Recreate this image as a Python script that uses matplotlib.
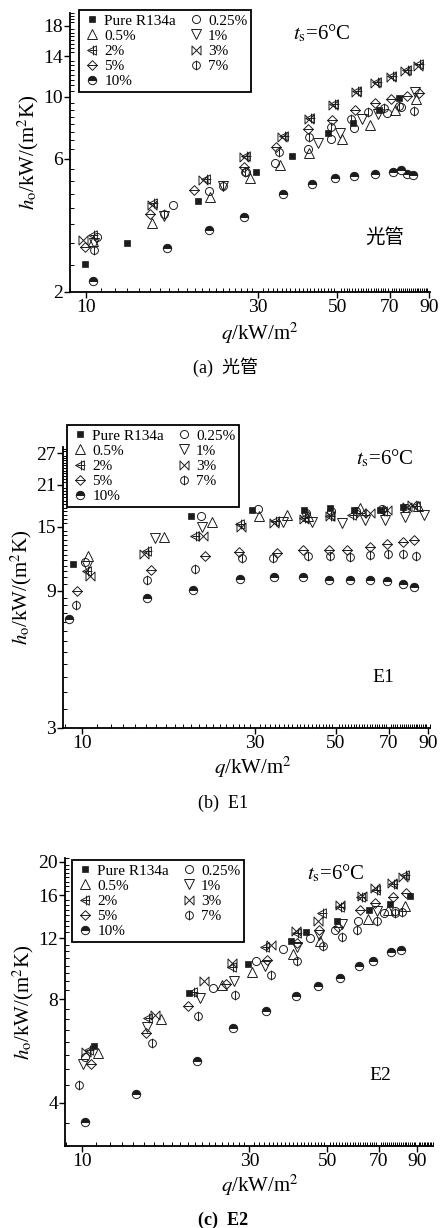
import numpy as np
import matplotlib
matplotlib.use('Agg')
import matplotlib.pyplot as plt
from matplotlib.path import Path
from matplotlib.lines import Line2D
from matplotlib.ticker import FixedLocator, NullFormatter, FixedFormatter

plt.rcParams['font.family'] = ['Liberation Serif', 'Noto Sans CJK SC', 'DejaVu Sans']
plt.rcParams['mathtext.fontset'] = 'stix'

labels = ['Pure R134a', '0.25%', '0.5%', '1%', '2%', '3%', '5%', '7%', '10%']

# ---------------- panel (a) 光管 ----------------
a_q_pure = [9.9, 13.0, 20.5, 29.6, 37.3, 47.0, 55.2, 65.4, 74.3]
a_h_pure = [2.52, 3.0, 4.25, 5.39, 6.15, 7.44, 8.08, 9.0, 9.9]
a_q_025 = [10.7, 17.4, 22.0, 27.9, 33.4, 41.3, 48.0, 55.6, 68.8, 75.0]
a_h_025 = [3.15, 4.11, 4.6, 5.4, 5.81, 6.5, 7.08, 7.76, 8.78, 9.2]
a_q_05 = [10.4, 15.2, 22.1, 28.6, 34.6, 41.6, 51.5, 61.6, 72.4, 82.5]
a_h_05 = [3.05, 3.54, 4.38, 5.13, 5.71, 6.31, 7.08, 7.95, 9.0, 9.86]
a_q_1 = [10.5, 16.4, 24.0, 44.2, 50.9, 58.6, 65.0, 82.0]
a_h_1 = [3.0, 3.75, 4.8, 6.85, 7.44, 8.36, 8.7, 10.4]
a_q_2 = [10.4, 15.3, 21.5, 27.9, 35.4, 42.0, 49.0, 56.8, 64.3, 71.0, 78.0, 84.5]
a_h_2 = [3.2, 4.18, 5.1, 6.15, 7.25, 8.4, 9.45, 10.5, 11.3, 11.9, 12.5, 13.1]
a_q_3 = [9.8, 15.2, 21.1, 27.4, 35.0, 41.6, 48.6, 56.3, 63.7, 70.6, 77.3, 83.6]
a_h_3 = [3.07, 4.11, 5.05, 6.1, 7.2, 8.36, 9.38, 10.4, 11.2, 11.8, 12.4, 12.9]
a_q_5 = [9.9, 15.0, 19.9, 27.4, 33.7, 41.5, 48.3, 56.0, 63.7, 70.6, 78.3, 84.5]
a_h_5 = [2.9, 3.81, 4.65, 5.6, 6.6, 7.7, 8.3, 9.0, 9.5, 9.85, 10.1, 10.3]
a_q_7 = [10.5, 16.4, 24.0, 27.7, 34.4, 41.7, 48.0, 54.6, 60.9, 67.4, 74.3, 81.6]
a_h_7 = [2.83, 3.81, 4.8, 5.4, 6.35, 7.2, 7.8, 8.35, 8.8, 9.1, 9.25, 8.9]
a_q_10 = [10.4, 16.75, 22.0, 27.4, 35.2, 42.4, 49.2, 55.6, 63.7, 71.5, 75.3, 78.3, 80.9]
a_h_10 = [2.19, 2.88, 3.34, 3.72, 4.5, 4.88, 5.13, 5.22, 5.3, 5.39, 5.48, 5.3, 5.26]

# ---------------- panel (b) E1 ----------------
b_q_pure = [9.46, 20.0, 29.4, 41.0, 48.1, 56.2, 66.3, 76.9]
b_h_pure = [11.1, 16.3, 17.2, 17.2, 17.4, 17.2, 17.2, 17.6]
b_q_025 = [10.2, 21.3, 30.5, 41.5, 48.5, 57.0, 67.0, 78.0]
b_h_025 = [11.3, 16.3, 17.3, 16.8, 17.0, 17.0, 17.3, 17.5]
b_q_05 = [10.4, 16.8, 22.8, 30.8, 36.7, 42.0, 58.3, 84.4]
b_h_05 = [11.9, 13.8, 15.6, 16.4, 16.5, 16.3, 17.4, 17.7]
b_q_1 = [10.3, 15.9, 21.4, 35.9, 42.9, 52.1, 60.3, 68.6, 77.7, 87.6]
b_h_1 = [11.0, 13.7, 15.0, 15.6, 15.6, 15.5, 15.8, 15.9, 16.2, 16.5]
b_q_2 = [10.3, 15.1, 20.5, 27.3, 34.0, 40.8, 48.3, 55.4, 67.7, 83.3]
b_h_2 = [10.5, 12.4, 13.9, 15.4, 15.7, 16.1, 16.3, 16.5, 17.0, 17.7]
b_q_3 = [10.5, 14.8, 21.5, 27.5, 33.8, 40.8, 48.3, 58.9, 62.3, 69.2, 78.6, 81.0]
b_h_3 = [10.1, 12.1, 13.9, 15.0, 15.5, 16.0, 16.3, 16.7, 16.7, 17.2, 17.6, 17.8]
b_q_5 = [9.7, 15.5, 21.8, 27.0, 34.5, 40.6, 47.8, 53.6, 62.3, 69.4, 76.9, 82.3]
b_h_5 = [9.0, 10.6, 11.9, 12.3, 12.2, 12.5, 12.5, 12.5, 12.8, 13.1, 13.3, 13.5]
b_q_7 = [9.6, 15.1, 20.5, 27.6, 33.6, 42.0, 48.3, 54.6, 62.0, 69.8, 76.9, 83.3]
b_h_7 = [8.0, 9.8, 10.7, 11.7, 11.7, 11.9, 11.9, 11.8, 12.0, 12.1, 12.1, 11.9]
b_q_10 = [9.2, 15.1, 20.2, 27.3, 33.8, 40.6, 47.8, 54.9, 62.0, 69.4, 76.6, 82.2]
b_h_10 = [7.2, 8.5, 9.05, 9.9, 10.0, 10.0, 9.8, 9.8, 9.8, 9.7, 9.5, 9.3]

# ---------------- panel (c) E2 ----------------
c_q_pure = [10.8, 20.2, 29.7, 39.5, 43.6, 53.2, 65.7, 75.6, 85.9]
c_h_pure = [5.85, 8.31, 10.1, 11.8, 12.5, 13.5, 14.5, 15.1, 15.9]
c_q_025 = [10.2, 23.6, 31.4, 37.5, 44.6, 52.6, 61.3, 72.5, 78.0]
c_h_025 = [5.45, 8.6, 10.3, 11.2, 12.0, 12.7, 13.5, 14.2, 14.4]
c_q_05 = [11.1, 16.8, 25.1, 30.6, 39.8, 47.6, 65.4, 74.6, 83.2]
c_h_05 = [5.57, 7.0, 8.78, 9.56, 10.8, 11.8, 13.6, 14.5, 14.9]
c_q_1 = [10.1, 15.3, 21.7, 27.1, 33.2, 40.9, 47.3, 55.0, 69.3]
c_h_1 = [5.2, 6.63, 8.04, 9.0, 9.97, 11.3, 12.3, 13.2, 14.4]
c_q_2 = [10.5, 15.4, 20.7, 26.7, 33.2, 41.0, 48.2, 54.5, 62.5, 69.0, 77.0, 83.2]
c_h_2 = [5.7, 7.04, 8.4, 9.9, 11.3, 12.4, 14.2, 14.8, 15.8, 16.6, 17.2, 18.3]
c_q_3 = [10.3, 16.2, 22.3, 26.8, 34.5, 40.6, 47.1, 54.3, 62.6, 68.3, 76.6, 82.2]
c_h_3 = [5.6, 7.2, 9.04, 10.15, 11.5, 12.6, 13.5, 15.0, 15.9, 16.8, 17.4, 18.1]
c_q_5 = [10.6, 15.2, 20.1, 25.8, 33.6, 40.9, 47.3, 53.7, 62.0, 68.3, 77.0, 83.6]
c_h_5 = [5.2, 6.37, 7.64, 8.85, 10.4, 11.6, 12.7, 12.9, 14.5, 15.2, 15.8, 16.2]
c_q_7 = [9.8, 15.8, 21.4, 27.3, 34.5, 40.9, 48.5, 54.9, 60.8, 69.3, 78.0, 81.4]
c_h_7 = [4.5, 5.96, 7.15, 8.22, 9.39, 10.3, 11.4, 12.1, 12.7, 13.5, 14.2, 14.3]
c_q_10 = [10.2, 14.3, 21.3, 26.9, 33.4, 40.8, 47.0, 54.3, 61.6, 67.4, 75.7, 81.2]
c_h_10 = [3.53, 4.25, 5.3, 6.58, 7.38, 8.17, 8.7, 9.2, 9.95, 10.3, 10.95, 11.1]

x_ticks = [10, 30, 50, 70, 90]
a_yticks = [2, 6, 10, 14, 18]
b_yticks = [3, 9, 15, 21, 27]
c_yticks = [4, 8, 12, 16, 20]

# ---------------- markers ----------------
M, L, C = Path.MOVETO, Path.LINETO, Path.CLOSEPOLY
tri_left = Path([(-1, 0), (0.8, 0.95), (0.8, -0.95), (-1, 0)], [M, L, L, C])
plus = Path([(-0.6, 0), (1.0, 0), (0.2, -1), (0.2, 1)], [M, L, M, L])
m2 = Path.make_compound_path(tri_left, plus)
m3 = Path([(-1, -1), (1, 1), (1, -1), (-1, 1), (-1, -1)], [M, L, L, L, C])
diamond = Path([(0, -1), (1, 0), (0, 1), (-1, 0), (0, -1)], [M, L, L, L, C])
m5 = Path.make_compound_path(diamond, Path([(-1, 0), (1, 0)], [M, L]))
m7 = Path.make_compound_path(Path.unit_circle(), Path([(0, -1.25), (0, 1.25)], [M, L]))

K = '#1c1c1c'
mew = 0.7
styles = [
    dict(marker='s', markersize=4.2, markerfacecolor=K, markeredgecolor=K, markeredgewidth=0.5),
    dict(marker='o', markersize=5.8, markerfacecolor='none', markeredgecolor=K, markeredgewidth=mew),
    dict(marker='^', markersize=6.5, markerfacecolor='none', markeredgecolor=K, markeredgewidth=mew),
    dict(marker='v', markersize=6.5, markerfacecolor='none', markeredgecolor=K, markeredgewidth=mew),
    dict(marker=m2, markersize=7, markerfacecolor='none', markeredgecolor=K, markeredgewidth=mew),
    dict(marker=m3, markersize=6.5, markerfacecolor='none', markeredgecolor=K, markeredgewidth=mew),
    dict(marker=m5, markersize=7, markerfacecolor='none', markeredgecolor=K, markeredgewidth=mew),
    dict(marker=m7, markersize=7, markerfacecolor='none', markeredgecolor=K, markeredgewidth=mew),
    dict(marker='o', markersize=6, fillstyle='top', markerfacecolor=K,
         markerfacecoloralt='white', markeredgecolor=K, markeredgewidth=mew),
]

W, H = 440, 1228
fig = plt.figure(figsize=(W / 100, H / 100), dpi=100)


def fx(px):
    return px / W


def fy(py):
    return 1 - py / H


def panel(rect, xlim, ylim, yticks, qs, hs, leg_xy, ts_xy, name_xy, name, xl_xy, cap_xy, cap, cap_bold=False):
    l, t, r, b = rect
    ax = fig.add_axes([fx(l), fy(b), fx(r) - fx(l), fy(t) - fy(b)])
    ax.set_xscale('log')
    ax.set_yscale('log')
    for q, h, st in zip(qs, hs, styles):
        ax.plot(q, h, linestyle='none', **st)
    ax.set_xlim(*xlim)
    ax.set_ylim(*ylim)
    for s in ['top', 'right']:
        ax.spines[s].set_visible(False)
    for s in ['left', 'bottom']:
        ax.spines[s].set_linewidth(1.3)
    ax.xaxis.set_major_locator(FixedLocator(x_ticks))
    ax.xaxis.set_major_formatter(FixedFormatter([str(v) for v in x_ticks]))
    ax.xaxis.set_minor_locator(FixedLocator(np.arange(9, 101, 1.0)))
    ax.xaxis.set_minor_formatter(NullFormatter())
    ax.yaxis.set_major_locator(FixedLocator(yticks))
    ax.yaxis.set_major_formatter(FixedFormatter([str(v) for v in yticks]))
    ax.yaxis.set_minor_locator(FixedLocator(np.arange(2, 30, 0.5)))
    ax.yaxis.set_minor_formatter(NullFormatter())
    ax.tick_params(which='major', direction='out', length=4, width=1.0, labelsize=14, pad=1)
    ax.tick_params(which='minor', direction='in', length=3, width=0.7)
    ax.set_ylabel(r'$h_{\rm o}$/kW/(m$^2$K)', fontsize=15, labelpad=2)
    fig.text(fx(xl_xy[0]), fy(xl_xy[1]), r'$q$/kW/m$^2$', fontsize=15, ha='center', va='center')
    handles = [Line2D([], [], linestyle='none', **st) for st in styles]
    order = [0, 2, 4, 6, 8, 1, 3, 5, 7]
    leg = ax.legend([handles[i] for i in order], [labels[i] for i in order], ncol=2,
                    loc='upper left', bbox_to_anchor=(fx(leg_xy[0]), fy(leg_xy[1])),
                    bbox_transform=fig.transFigure, fontsize=11, frameon=True, fancybox=False,
                    edgecolor='black', framealpha=1, borderpad=0.25, handletextpad=0.2,
                    columnspacing=0.7, labelspacing=0.1, handlelength=1.2, borderaxespad=0)
    leg.get_frame().set_linewidth(1.3)
    fig.text(fx(ts_xy[0]), fy(ts_xy[1]), r'$t_{\rm s}$=6°C', fontsize=15, ha='center', va='center')
    fig.text(fx(name_xy[0]), fy(name_xy[1]), name, fontsize=14, ha='center', va='center')
    fig.text(fx(cap_xy[0]), fy(cap_xy[1]), cap, fontsize=13, ha='center', va='center',
             fontweight='bold' if cap_bold else 'normal')
    return ax


panel((70, 13, 430, 292), (9.0, 90.5), (2.0, 20.0), a_yticks,
      [a_q_pure, a_q_025, a_q_05, a_q_1, a_q_2, a_q_3, a_q_5, a_q_7, a_q_10],
      [a_h_pure, a_h_025, a_h_05, a_h_1, a_h_2, a_h_3, a_h_5, a_h_7, a_h_10],
      (79, 10), (322, 33), (385, 238), '光管', (260, 333), (225, 367), '(a)  光管')

panel((63, 447, 430, 728), (8.86, 91.0), (3.0, 28.4), b_yticks,
      [b_q_pure, b_q_025, b_q_05, b_q_1, b_q_2, b_q_3, b_q_5, b_q_7, b_q_10],
      [b_h_pure, b_h_025, b_h_05, b_h_1, b_h_2, b_h_3, b_h_5, b_h_7, b_h_10],
      (67, 425), (385, 458), (383, 677), 'E1', (253, 767), (223, 803), '(b)  E1')

panel((65, 858, 433, 1146), (8.95, 100.0), (3.0, 20.5), c_yticks,
      [c_q_pure, c_q_025, c_q_05, c_q_1, c_q_2, c_q_3, c_q_5, c_q_7, c_q_10],
      [c_h_pure, c_h_025, c_h_05, c_h_1, c_h_2, c_h_3, c_h_5, c_h_7, c_h_10],
      (72, 860), (336, 873), (380, 1075), 'E2', (260, 1185), (223, 1220), '(c)  E2', cap_bold=True)

fig.savefig('out.png', dpi=100)
